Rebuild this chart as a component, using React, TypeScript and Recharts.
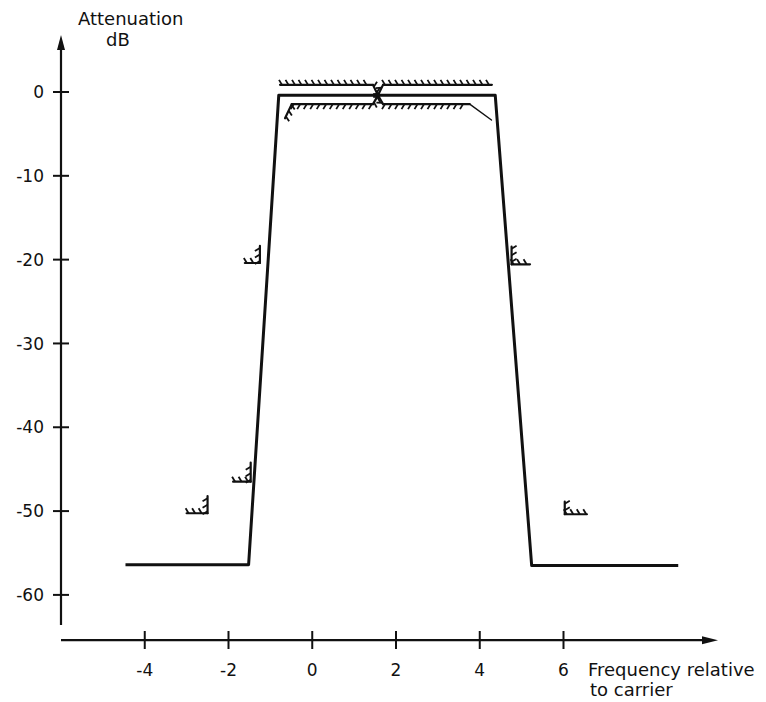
import React from "react";
import { LineChart, Line, XAxis, YAxis, ReferenceLine, Customized } from "recharts";

// Frequency (relative to carrier) and attenuation (dB) of the response curve
const respFreq = [-4.46, -1.52, -0.8, 4.37, 5.24, 8.74];
const respAtt = [-56.4, -56.4, -0.4, -0.4, -56.5, -56.5];

const xTicks = [-4, -2, 0, 2, 4, 6];
const yTicks = [0, -10, -20, -30, -40, -50, -60];

// Tolerance masks: points [freq, dB]; hatch side (+1 left of travel, -1 right); hatched flag per segment
const maskUpper = { pts: [[-0.77, 0.85], [1.45, 0.85], [1.57, -0.4], [1.69, 0.85], [4.29, 0.85]], side: 1, hatch: [true, true, true, true] };
const maskLower = { pts: [[-0.65, -3.14], [-0.49, -1.45], [1.45, -1.45], [1.57, -0.4], [1.69, -1.45], [3.76, -1.45], [4.28, -3.34]], side: -1, hatch: [true, true, true, true, true, false] };
const maskL20 = { pts: [[-1.61, -20.4], [-1.25, -20.4], [-1.25, -18.37]], side: 1, hatch: [true, true] };
const maskL46 = { pts: [[-1.89, -46.49], [-1.47, -46.49], [-1.47, -44.23]], side: 1, hatch: [true, true] };
const maskL50 = { pts: [[-3.0, -50.26], [-2.5, -50.26], [-2.5, -48.2]], side: 1, hatch: [true, true] };
const maskR20 = { pts: [[4.76, -18.46], [4.76, -20.56], [5.2, -20.56]], side: 1, hatch: [true, true] };
const maskR50 = { pts: [[6.03, -48.88], [6.03, -50.38], [6.56, -50.38]], side: 1, hatch: [true, true] };
const masks = [maskUpper, maskLower, maskL20, maskL46, maskL50, maskR20, maskR50];

const X_MIN = -6, X_MAX = 10, Y_MIN = -65.5, Y_MAX = 6.8;
const X_AXIS_END = 9.69, Y_AXIS_BOTTOM = -63.6, X_AXIS_Y = -65.4;

const resp = respFreq.map((f, i) => ({ x: f, y: respAtt[i] }));

const FONT = "DejaVu Sans";
const INK = "#111";

const hatchShape = (side: number, hatch: boolean) => (props: any) => {
  const { x1, y1, x2, y2 } = props;
  if ([x1, y1, x2, y2].some((v) => v == null || isNaN(v))) return <g />;
  const dx = x2 - x1, dy = y2 - y1;
  const L = Math.hypot(dx, dy) || 1;
  const ux = dx / L, uy = dy / L;
  const nx = uy * side, ny = -ux * side;
  const ticks: any[] = [];
  if (hatch) {
    for (let s = 2; s < L - 0.5; s += 6.5) {
      const px = x1 + ux * s, py = y1 + uy * s;
      ticks.push(
        <line key={s} x1={px} y1={py} x2={px + nx * 5 - ux * 3} y2={py + ny * 5 - uy * 3} stroke={INK} strokeWidth={1.8} />
      );
    }
  }
  return (
    <g>
      <line x1={x1} y1={y1} x2={x2} y2={y2} stroke={INK} strokeWidth={hatch ? 2.2 : 1.4} strokeLinecap="round" />
      {ticks}
    </g>
  );
};

const yAxisShape = (props: any) => {
  const { x1, y1, x2, y2 } = props;
  const top = Math.min(y1, y2), bot = Math.max(y1, y2);
  return (
    <g>
      <line x1={x1} y1={top + 10} x2={x1} y2={bot} stroke={INK} strokeWidth={2.2} />
      <polygon points={`${x1},${top} ${x1 - 4},${top + 15} ${x1 + 4},${top + 15}`} fill={INK} />
    </g>
  );
};

const xAxisShape = (props: any) => {
  const { x1, y1, x2 } = props;
  const left = Math.min(x1, x2), right = Math.max(x1, x2);
  return (
    <g>
      <line x1={left} y1={y1} x2={right - 10} y2={y1} stroke={INK} strokeWidth={2.2} />
      <polygon points={`${right},${y1} ${right - 16},${y1 - 4} ${right - 16},${y1 + 4}`} fill={INK} />
    </g>
  );
};

const YTick = (props: any) => {
  const { x, y, payload } = props;
  return (
    <g>
      <line x1={x - 8} x2={x + 8} y1={y} y2={y} stroke={INK} strokeWidth={2} />
      <text x={x - 17} y={y} dy="0.36em" textAnchor="end" fontSize={17} fontFamily={FONT} fill={INK}>
        {payload.value}
      </text>
    </g>
  );
};

const XTick = (props: any) => {
  const { x, y, payload } = props;
  return (
    <g>
      <line x1={x} x2={x} y1={y - 10} y2={y + 8} stroke={INK} strokeWidth={2} />
      <text x={x} y={y + 35} textAnchor="middle" fontSize={17} fontFamily={FONT} fill={INK}>
        {payload.value}
      </text>
    </g>
  );
};

const Titles = () => (
  <g fontFamily={FONT} fontSize={18} fill={INK}>
    <text x={78} y={25}>Attenuation</text>
    <text x={106} y={46}>dB</text>
    <text x={588} y={676}>Frequency relative</text>
    <text x={590} y={696}>to carrier</text>
  </g>
);

export default function App() {
  return (
    <div style={{ width: 766, height: 702, background: "#fff" }}>
      <style>{`body{margin:0;}`}</style>
      <LineChart width={766} height={702} margin={{ top: 35, right: 35, bottom: 0, left: 0 }}>
        <XAxis
          dataKey="x"
          type="number"
          domain={[X_MIN, X_MAX]}
          ticks={xTicks}
          interval={0}
          axisLine={false}
          tickLine={false}
          tickSize={0}
          tickMargin={0}
          height={61}
          tick={<XTick />}
          allowDataOverflow
        />
        <YAxis
          type="number"
          domain={[Y_MIN, Y_MAX]}
          ticks={yTicks}
          interval={0}
          axisLine={false}
          tickLine={false}
          tickSize={0}
          tickMargin={0}
          width={61}
          tick={<YTick />}
          allowDataOverflow
        />
        <ReferenceLine
          segment={[{ x: X_MIN, y: Y_AXIS_BOTTOM }, { x: X_MIN, y: Y_MAX }]}
          ifOverflow="visible"
          shape={yAxisShape}
        />
        <ReferenceLine
          segment={[{ x: X_MIN, y: X_AXIS_Y }, { x: X_AXIS_END, y: X_AXIS_Y }]}
          ifOverflow="visible"
          shape={xAxisShape}
        />
        {masks.flatMap((m, mi) =>
          m.pts.slice(0, -1).map((p, i) => (
            <ReferenceLine
              key={`m${mi}-${i}`}
              segment={[{ x: p[0], y: p[1] }, { x: m.pts[i + 1][0], y: m.pts[i + 1][1] }]}
              ifOverflow="visible"
              shape={hatchShape(m.side, m.hatch[i])}
            />
          ))
        )}
        <Line
          data={resp}
          dataKey="y"
          type="linear"
          stroke={INK}
          strokeWidth={3}
          dot={false}
          isAnimationActive={false}
          strokeLinejoin="round"
        />
        <Customized component={<Titles />} />
      </LineChart>
    </div>
  );
}
